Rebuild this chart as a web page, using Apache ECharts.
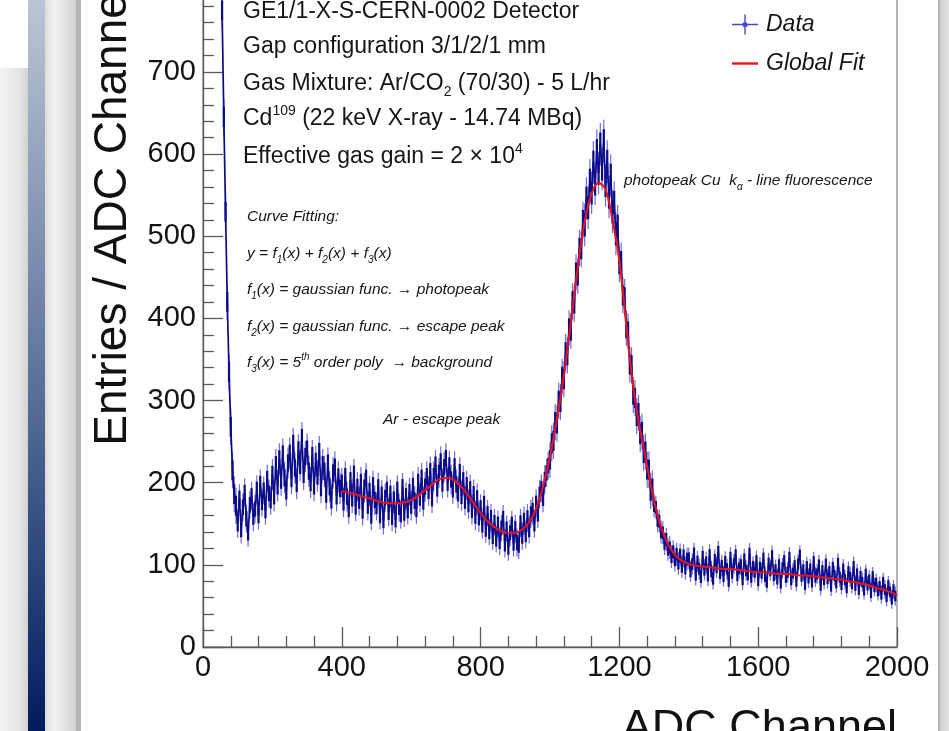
<!DOCTYPE html>
<html>
<head>
<meta charset="utf-8">
<script src="https://cdn.jsdelivr.net/npm/echarts@6/dist/echarts.min.js"></script>
<style>
html,body{margin:0;padding:0;background:#ffffff;}
#chart{width:949px;height:731px;}
</style>
</head>
<body>
<div id="chart"></div>
<script>
// ---------------- data ----------------
const firstBinCenter = 55;   // ADC channel of first bin centre
const binWidth = 5;          // ADC channels per bin
// entries per bin, bins 55,60,65,...,1995
const counts = [
  775, 645, 530, 420, 335, 268, 215, 186, 172,
  150, 181, 143, 170, 188, 156, 139, 173, 184, 158,
  168, 192, 160, 199, 176, 191, 166, 205, 187, 178,
  210, 184, 222, 196, 229, 203, 235, 206, 190, 224,
  236, 205, 248, 218, 199, 240, 221, 255, 210, 232,
  241, 214, 200, 233, 196, 226, 208, 238, 194, 222,
  214, 186, 224, 195, 179, 212, 219, 184, 207, 193,
  200, 176, 208, 183, 168, 203, 181, 211, 171, 195,
  178, 201, 166, 194, 206, 172, 190, 160, 197, 179,
  171, 195, 160, 186, 154, 182, 192, 164, 187, 158,
  180, 155, 192, 170, 161, 195, 163, 184, 166, 189,
  172, 196, 178, 168, 201, 182, 206, 177, 195, 208,
  190, 214, 181, 208, 222, 193, 212, 226, 199, 219,
  230, 200, 221, 204, 192, 220, 198, 187, 213, 184,
  203, 178, 197, 174, 192, 167, 186, 160, 181, 158,
  170, 148, 175, 143, 163, 140, 158, 134, 152, 131,
  150, 128, 145, 157, 125, 144, 121, 139, 150, 126,
  144, 127, 124, 151, 135, 154, 137, 157, 143, 162,
  166, 150, 175, 162, 186, 193, 181, 204, 212, 221,
  228, 248, 251, 274, 272, 300, 298, 329, 326, 359,
  355, 388, 385, 421, 418, 456, 452, 486, 484, 520,
  514, 546, 535, 568, 553, 590, 564, 604, 577, 612,
  582, 616, 562, 591, 548, 574, 530, 541, 503, 512,
  466, 470, 428, 426, 388, 384, 344, 343, 307, 303,
  281, 285, 259, 262, 236, 238, 216, 216, 190, 193,
  172, 170, 154, 153, 140, 139, 126, 131, 119, 121,
  110, 116, 106, 113, 102, 112, 98, 111, 96, 107,
  108, 92, 101, 114, 88, 104, 95, 85, 110, 94,
  103, 87, 112, 92, 83, 106, 97, 116, 90, 99,
  86, 104, 95, 80, 109, 90, 101, 112, 87, 96,
  100, 82, 107, 93, 88, 114, 85, 98, 91, 105,
  81, 97, 90, 108, 86, 79, 102, 93, 111, 87,
  94, 83, 100, 78, 96, 105, 85, 91, 109, 82,
  90, 99, 80, 101, 112, 86, 94, 76, 98, 84,
  95, 79, 104, 85, 89, 100, 75, 93, 82, 101,
  83, 92, 74, 97, 87, 78, 102, 85, 76, 95,
  82, 72, 92, 85, 77, 98, 75, 89, 70, 86,
  79, 69, 89, 75, 82, 66, 86, 73, 78, 68,
  74, 64, 79, 70, 61, 75, 67, 58, 70, 62
];
// error bar half-length, per 100-channel block (0-100, 100-200, ...)
const blockErrors = [22, 17, 19, 19, 18, 17, 18, 18, 16, 17, 22, 26, 22, 14, 13, 12.5, 12.5, 12, 12, 11.5];
// global fit curve
const fitX = [400,420,440,460,480,500,520,540,560,580,600,620,640,660,680,700,720,740,760,780,
  800,820,840,860,880,900,920,940,960,980,1000,1020,1040,1060,1080,1100,1120,1140,1160,1180,
  1200,1220,1240,1260,1280,1300,1320,1340,1360,1380,1400,1420,1440,1460,1480,1500,1520,1540,1560,1580,
  1600,1620,1640,1660,1680,1700,1720,1740,1760,1780,1800,1820,1840,1860,1880,1900,1920,1940,1960,1980,2000];
const fitY = [190,188,186,183,181,178,176,175,175,176,179,184,191,198,204,206,204,197,187,175,
  163,153,146,141,139,139,143,152,168,196,232,278,330,395,462,518,552,565,557,520,
  470,392,316,264,220,178,146,125,112,105,101,99,98,97,96,95,95,94,93,92,
  91,91,90,89,89,88,87,87,86,85,84,83,82,80,79,77,75,72,70,67,63];
const seriesNames = ['Data', 'Global Fit'];
const xTitle = 'ADC Channel';
const yTitle = 'Entries / ADC Channel';

// ---------------- chart ----------------
const FONT = '"Liberation Sans", Arial, Helvetica, sans-serif';
const dataItems = counts.map((c, i) => {
  const ch = firstBinCenter + binWidth * i;
  return [ch, c, blockErrors[Math.floor(ch / 100)]];
});
const fitItems = fitX.map((x, i) => [x, fitY[i]]);

const chart = echarts.init(document.getElementById('chart'), null, {renderer: 'canvas'});

const txt = (x, y, text, rich, size, italic) => ({
  type: 'text', x: x, y: y, z: 50,
  style: {
    text: text, fill: '#161616', font: (italic ? 'italic ' : '') + size + 'px ' + FONT,
    verticalAlign: 'middle', align: 'left', rich: rich || {}
  }
});

const headRich = {
  sup: {fontSize: 14, fontFamily: FONT, fill: '#161616', verticalAlign: 'top', lineHeight: 14},
  sub: {fontSize: 14, fontFamily: FONT, fill: '#161616', verticalAlign: 'bottom', lineHeight: 14},
  n: {fontSize: 23, fontFamily: FONT, fill: '#161616', lineHeight: 30}
};
const itRich = {
  sup: {fontSize: 10, fontStyle: 'italic', fontFamily: FONT, fill: '#161616', verticalAlign: 'top', lineHeight: 10},
  sub: {fontSize: 10, fontStyle: 'italic', fontFamily: FONT, fill: '#161616', verticalAlign: 'bottom', lineHeight: 10},
  n: {fontSize: 15.5, fontStyle: 'italic', fontFamily: FONT, fill: '#161616', lineHeight: 22}
};

const option = {
  animation: false,
  backgroundColor: '#ffffff',
  grid: {left: 203, right: 52, top: -92.3, bottom: 84, containLabel: false, outerBoundsMode: 'none',
         show: true, borderColor: '#6a6a6a', borderWidth: 1, backgroundColor: 'transparent'},
  legend: {
    orient: 'vertical', left: 727, top: 8, itemWidth: 26, itemHeight: 20, itemGap: 16,
    selectedMode: false,
    textStyle: {fontSize: 23, fontStyle: 'italic', color: '#151515', fontFamily: FONT, padding: [0, 0, 0, 3]},
    data: [
      {name: 'Data', icon: 'path://M0,9.3H26V10.7H0Z M12.3,0H13.7V20H12.3Z M15.6,10A2.6,2.6 0 1 1 15.59,9.9Z'},
      {name: 'Global Fit', icon: 'path://M0,0H26V2.4H0Z'}
    ]
  },
  xAxis: {
    type: 'value', min: 0, max: 2000, interval: 400,
    name: xTitle, nameLocation: 'end', nameGap: 0,
    nameTextStyle: {fontSize: 45, color: '#111', fontFamily: FONT, align: 'right', verticalAlign: 'top', padding: [59, 0, 0, 0]},
    axisLine: {show: true, onZero: false, lineStyle: {color: '#5a5a5a', width: 1.3}},
    axisTick: {show: true, inside: true, length: 20, lineStyle: {color: '#5a5a5a', width: 1.3}},
    minorTick: {show: true, splitNumber: 5, length: 11, lineStyle: {color: '#5a5a5a', width: 1.3}},
    axisLabel: {fontSize: 29, color: '#141414', margin: 6, fontFamily: FONT, formatter: v => String(v)},
    splitLine: {show: false}
  },
  yAxis: {
    type: 'value', min: 0, max: 900, interval: 100,
    name: yTitle, nameLocation: 'middle', nameGap: 55, nameRotate: 90,
    nameTextStyle: {fontSize: 46, color: '#111', fontFamily: FONT, padding: [0, 0, 0, 126]},
    axisLine: {show: true, lineStyle: {color: '#5a5a5a', width: 1.3}},
    axisTick: {show: true, inside: true, length: 20, lineStyle: {color: '#5a5a5a', width: 1.3}},
    minorTick: {show: true, splitNumber: 5, length: 11, lineStyle: {color: '#5a5a5a', width: 1.3}},
    axisLabel: {fontSize: 29, color: '#141414', margin: 7, fontFamily: FONT, formatter: v => String(v)},
    splitLine: {show: false}
  },
  series: [
    {
      name: 'Data', type: 'custom', clip: true, z: 2,
      itemStyle: {color: '#4646d2'},
      encode: {x: 0, y: 1},
      data: dataItems,
      renderItem: function (params, api) {
        const idx = params.dataIndexInside;
        const x = api.value(0), v = api.value(1), e = api.value(2);
        const top = api.coord([x, v + e]);
        const bot = api.coord([x, v - e]);
        const cTop = api.coord([x, v + e * 0.55]);
        const cBot = api.coord([x, v - e * 0.55]);
        const w = api.size([binWidth, 0])[0] + 0.5;
        const children = [
          {type: 'line', shape: {x1: top[0], y1: top[1], x2: bot[0], y2: bot[1]},
           style: {stroke: 'rgba(72,72,205,0.8)', lineWidth: 1.2}},
          {type: 'rect', shape: {x: cTop[0] - w / 2, y: cTop[1], width: w, height: cBot[1] - cTop[1]},
           style: {fill: '#0b0b86'}}
        ];
        if (idx > 0) {
          const px = api.value(0, idx - 1), pv = api.value(1, idx - 1);
          const p0 = api.coord([px, pv]);
          const p1 = api.coord([x, v]);
          children.push({type: 'line', shape: {x1: p0[0], y1: p0[1], x2: p1[0], y2: p1[1]},
            style: {stroke: '#0d0d8c', lineWidth: 1.7}});
        }
        return {type: 'group', children: children};
      }
    },
    {
      name: 'Global Fit', type: 'line', z: 3, smooth: 0.35, showSymbol: false, symbol: 'none',
      itemStyle: {color: '#e3161e'},
      lineStyle: {color: '#e3161e', width: 2.1},
      data: fitItems
    }
  ],
  graphic: [
    // page decoration around the plot
    {type: 'rect', z: -10, shape: {x: 0, y: 68, width: 28, height: 663},
     style: {fill: new echarts.graphic.LinearGradient(0, 0, 1, 0, [{offset: 0, color: '#f3f3f3'}, {offset: 0.7, color: '#e6e6e6'}, {offset: 1, color: '#d2d2d2'}])}},
    {type: 'rect', z: -10, shape: {x: 28, y: 0, width: 17, height: 731},
     style: {fill: new echarts.graphic.LinearGradient(0, 0, 0, 1, [{offset: 0, color: '#bcc5d4'}, {offset: 0.45, color: '#6a7ea3'}, {offset: 1, color: '#001c5e'}])}},
    {type: 'rect', z: -10, shape: {x: 45, y: 0, width: 32, height: 731},
     style: {fill: new echarts.graphic.LinearGradient(0, 0, 1, 0, [{offset: 0, color: '#dcdcdc'}, {offset: 0.3, color: '#f2f2f2'}, {offset: 0.6, color: '#e4e4e4'}, {offset: 1, color: '#d0d0d0'}])}},
    {type: 'rect', z: -10, shape: {x: 76, y: 0, width: 5, height: 731}, style: {fill: '#b5b5b5'}},
    {type: 'rect', z: -10, shape: {x: 938, y: 0, width: 11, height: 731},
     style: {fill: new echarts.graphic.LinearGradient(0, 0, 1, 0, [{offset: 0, color: '#a9a9a9'}, {offset: 0.3, color: '#d3d3d3'}, {offset: 1, color: '#e2e2e2'}])}},
    // detector description
    txt(243, 12, 'GE1/1-X-S-CERN-0002 Detector', null, 23, false),
    txt(243, 47, 'Gap configuration 3/1/2/1 mm', null, 23, false),
    txt(243, 84, '{n|Gas Mixture: Ar/CO}{sub|2}{n| (70/30) - 5 L/hr}', headRich, 23, false),
    txt(243, 119, '{n|Cd}{sup|109}{n| (22 keV X-ray - 14.74 MBq)}', headRich, 23, false),
    txt(243, 157, '{n|Effective gas gain = 2 \u00d7 10}{sup|4}', headRich, 23, false),
    // fit description
    txt(247, 217, 'Curve Fitting:', null, 15.5, true),
    txt(247, 254, '{n|y = f}{sub|1}{n|(x) + f}{sub|2}{n|(x) + f}{sub|3}{n|(x)}', itRich, 15.5, true),
    txt(247, 290, '{n|f}{sub|1}{n|(x) = gaussian func. \u2192 photopeak}', itRich, 15.5, true),
    txt(247, 327, '{n|f}{sub|2}{n|(x) = gaussian func. \u2192 escape peak}', itRich, 15.5, true),
    txt(247, 363, '{n|f}{sub|3}{n|(x) = 5}{sup|th}{n| order poly  \u2192 background}', itRich, 15.5, true),
    txt(383, 420, 'Ar - escape peak', null, 15.5, true),
    txt(624, 181, '{n|photopeak Cu  k}{sub|\u03b1}{n| - line fluorescence}', itRich, 15.5, true)
  ]
};
chart.setOption(option);
</script>
</body>
</html>
